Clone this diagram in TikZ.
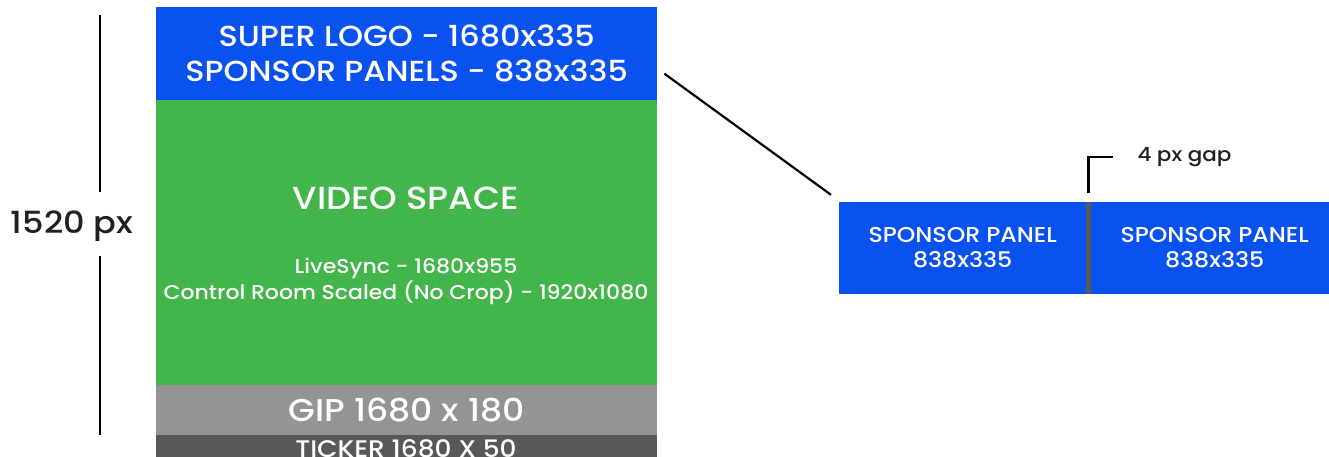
\documentclass[tikz,border=0pt]{standalone}
\usepackage{fontspec}
\setmainfont{Poppins}[UprightFont={* Medium},FakeStretch=1.1]
\usetikzlibrary{positioning}
\definecolor{logoblue}{HTML}{0A52EF}
\definecolor{videogreen}{HTML}{42B54B}
\definecolor{gipgray}{HTML}{959393}
\definecolor{tickergray}{HTML}{58585A}
\definecolor{inkdark}{HTML}{231F20}
\tikzset{band/.style={inner sep=0pt,minimum width=501pt,align=center,text=white},
         panel/.style={fill=logoblue,inner sep=0pt,minimum width=247pt,minimum height=92pt,
                       align=center,text=white,font=\fontsize{21.5}{25}\selectfont},
         lead/.style={draw=black,line width=2.2pt}}

\begin{document}
\begin{tikzpicture}[x=1pt,y=-1pt]
        \useasboundingbox (0,0) rectangle (1329,456);
        \clip (0,0) rectangle (1329,456);

        % screen layout column
        \node[band,fill=logoblue,minimum height=93pt,anchor=north west,
              font=\fontsize{29}{35}\selectfont](logo)at(156,7){SUPER LOGO - 1680x335\\SPONSOR PANELS - 838x335};
        \node[band,fill=videogreen,minimum height=285pt,anchor=north west](video)at(156,100){};
        \node[band,fill=gipgray,minimum height=50pt,anchor=north west,
              font=\fontsize{31.5}{34}\selectfont](gip)at(156,385){GIP 1680 x 180};
        \node[band,fill=tickergray,minimum height=30pt,anchor=north west](ticker)at(156,435){};
        \node[text=white,font=\fontsize{24}{28}\selectfont](tickertext)at(406,449){TICKER 1680 X 50};

        \node[text=white,font=\fontsize{32}{36}\selectfont](vtitle)at(406,198){VIDEO SPACE};
        \node[text=white,align=center,font=\fontsize{20}{26}\selectfont](vsize)at(406,281){LiveSync - 1680x955\\Control Room Scaled (No Crop) - 1920x1080};

        % height marker
        \node[text=inkdark,font=\fontsize{30.5}{34}\selectfont](height)at(72,226){1520 px};
        \coordinate(htop)at(100,15);
        \coordinate(hbot)at(100,435);
        \draw[lead](htop)--(htop |- 0,192);
        \draw[lead](hbot |- 0,256)--(hbot);

        % sponsor panels with the 4px divider
        \node[panel,anchor=west](sp1)at(839,248){SPONSOR PANEL\\838x335};
        \node[panel,anchor=west](sp2)at(1091,248){SPONSOR PANEL\\838x335};
        \fill[tickergray](sp1.north east) rectangle (sp2.south west);
        \coordinate(gap)at(1088.5,202);
        \draw[lead]([shift={(7pt,-20pt)}]logo.east)--([shift={(-8pt,7pt)}]sp1.north west);
        \coordinate(bend)at(1088.5,157);
        \node[text=inkdark,anchor=west,font=\fontsize{19.5}{22}\selectfont](gaptext)at(1134,157){4 px gap};
        \draw[lead]([yshift=9pt]gap)--(bend)--(1113,157);
\end{tikzpicture}
\end{document}
